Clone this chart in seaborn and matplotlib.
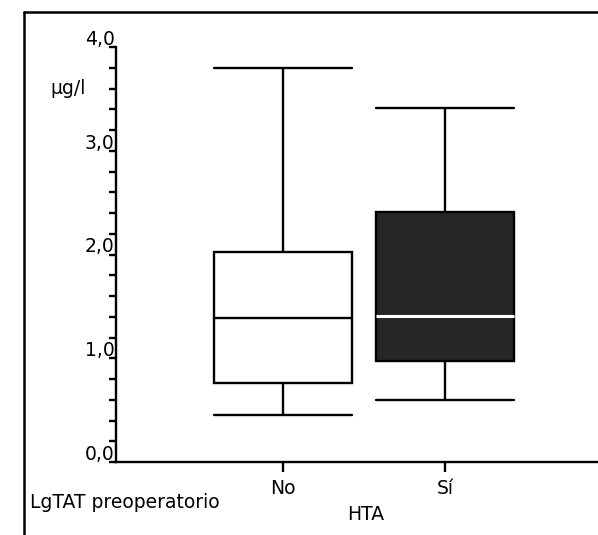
import numpy as np
import pandas as pd
import matplotlib
matplotlib.use("Agg")
import matplotlib.pyplot as plt
import matplotlib.transforms as mtransforms
from matplotlib.lines import Line2D
from matplotlib.ticker import MultipleLocator, FixedLocator
import seaborn as sns

# ---- data (five-number summaries, µg/l) ----
categories = ["No", "Sí"]
no_values = [0.45, 0.76, 1.39, 2.02, 3.80]   # min, Q1, median, Q3, max
si_values = [0.60, 0.97, 1.41, 2.41, 3.41]
ytick_values = [0, 1, 2, 3, 4]
ytick_labels = ["0,0", "1,0", "2,0", "3,0", "4,0"]

df = pd.DataFrame({
    "HTA": [categories[0]] * len(no_values) + [categories[1]] * len(si_values),
    "LgTAT": no_values + si_values,
})

sns.set_style("white")
plt.rcParams["font.family"] = ["DejaVu Sans"]
plt.rcParams["text.color"] = "black"
plt.rcParams["axes.labelcolor"] = "black"
plt.rcParams["xtick.color"] = "black"
plt.rcParams["ytick.color"] = "black"
FS = 13.5

W, H = 598, 535
fig = plt.figure(figsize=(W / 100, H / 100), dpi=100)
ax_left, ax_right = 116, 598
ax_top, ax_bottom = 47, 462
ax = fig.add_axes([ax_left / W, (H - ax_bottom) / H,
                   (ax_right - ax_left) / W, (ax_bottom - ax_top) / H])

sns.boxplot(data=df, x="HTA", y="LgTAT", hue="HTA", order=categories,
            hue_order=categories, palette=["white", "#262626"],
            linecolor="black", linewidth=1.7, width=0.85, whis=(0, 100),
            dodge=False, legend=False, ax=ax, capwidths=0.85)

# white median in dark box
conts = [c for c in ax.containers if hasattr(c, "medians")]
if len(conts) >= 2:
    for m in conts[1].medians:
        m.set_color("white")
        m.set_linewidth(2.2)

ax.set_ylim(0, 4)
ax.set_xlim(-1.03, 1.945)

# spines
for s in ["top", "right"]:
    ax.spines[s].set_visible(False)
for s in ["left", "bottom"]:
    ax.spines[s].set_linewidth(1.7)
    ax.spines[s].set_color("black")

# y ticks
ax.yaxis.set_major_locator(FixedLocator(ytick_values))
ax.set_yticks(ytick_values, ytick_labels)
ax.yaxis.set_minor_locator(MultipleLocator(0.2))
ax.tick_params(axis="y", which="major", direction="out", length=5, width=1.7,
               pad=1, labelsize=FS, left=True, color="black", labelcolor="black")
ax.tick_params(axis="y", which="minor", direction="out", length=5, width=1.7,
               left=True, color="black")
off = mtransforms.ScaledTranslation(5 / 72, 7 / 72, fig.dpi_scale_trans)
for lab in ax.get_yticklabels():
    lab.set_transform(lab.get_transform() + off)

# x ticks
ax.tick_params(axis="x", which="major", direction="out", length=7, width=1.7,
               pad=5, labelsize=FS, bottom=True, color="black", labelcolor="black")

ax.set_xlabel("HTA", fontsize=FS, color="black")
ax.xaxis.set_label_coords((366 - ax_left) / (ax_right - ax_left),
                          -(505 - ax_bottom) / (ax_bottom - ax_top))
ax.set_ylabel("μg/l", fontsize=FS, rotation=0, ha="right", va="center",
              color="black")
ax.yaxis.set_label_coords(-(ax_left - 86) / (ax_right - ax_left),
                          (ax_bottom - 88) / (ax_bottom - ax_top))

fig.text(30 / W, (H - 502) / H, "LgTAT preoperatorio", fontsize=FS,
         ha="left", va="center", color="black")

# page frame (scan border)
fx, fy = 24 / W, (H - 12) / H
fig.add_artist(Line2D([fx, fx], [0, fy], transform=fig.transFigure,
                      color="black", lw=1.8))
fig.add_artist(Line2D([fx, 1], [fy, fy], transform=fig.transFigure,
                      color="black", lw=1.8))

fig.savefig("out.png", dpi=100, facecolor="white")
